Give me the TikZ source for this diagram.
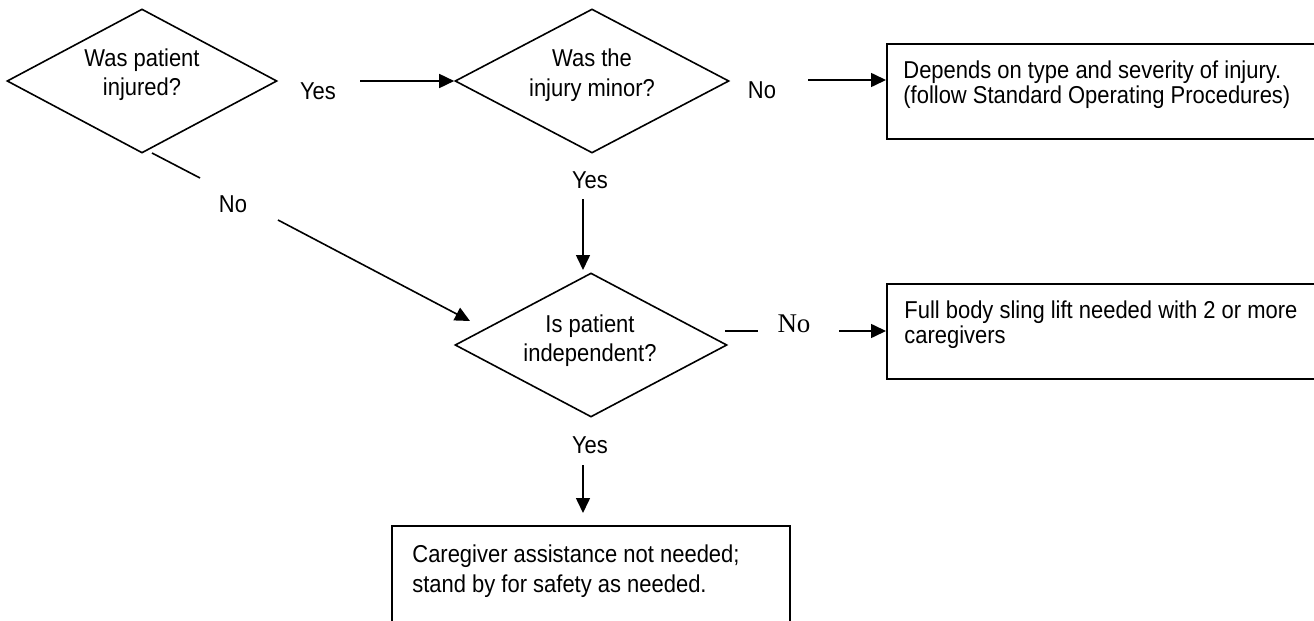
\documentclass[tikz,border=0pt]{standalone}
\usepackage{fontspec}
\setmainfont{Liberation Sans}[FakeStretch=0.9]
\newfontfamily\serifface{Liberation Serif}
\usetikzlibrary{shapes.geometric,arrows.meta}
\begin{document}
\begin{tikzpicture}[x=0.5pt,y=-0.5pt,
  decision/.style={draw, shape=diamond, inner sep=0pt, line width=0.8pt,
                   minimum width=136pt, minimum height=72pt},
  outcome/.style={draw, rectangle, inner sep=0pt, line width=1pt, anchor=north west},
  txt/.style={inner sep=0pt, anchor=base, font=\fontsize{12.2}{14}\selectfont},
  ltxt/.style={txt, anchor=base west},
  conn/.style={line width=0.8pt},
  arr/.style={conn, -{Triangle[length=7.5pt,width=7pt]}}]
\useasboundingbox (0,0) rectangle (1314,621);
\clip (0,0) rectangle (1314,621);

% decisions
\node[decision, minimum width=135pt] (d1) at (142,81) {};
\node[txt] (d1a) at (142,67) {Was patient};
\node[txt] (d1b) at (142,96) {injured?};

\node[decision, minimum width=137pt] (d2) at (592,81) {};
\node[txt] (d2a) at (592,67) {Was the};
\node[txt] (d2b) at (592,97) {injury minor?};

\node[decision] (d3) at (591,345) {};
\node[txt] (d3a) at (590,332) {Is patient};
\node[txt] (d3b) at (590,361) {independent?};

% outcomes
\node[outcome, minimum width=218pt, minimum height=47.5pt] (b1) at (886,43) {};
\node[ltxt] (b1a) at (903,78) {Depends on type and severity of injury.};
\node[ltxt] (b1b) at (903,104) {(follow Standard Operating Procedures)};

\node[outcome, minimum width=218pt, minimum height=47.5pt] (b2) at (886,283) {};
\node[ltxt] (b2a) at (904,318) {Full body sling lift needed with 2 or more};
\node[ltxt] (b2b) at (904,343) {caregivers};

\node[outcome, minimum width=199pt, minimum height=62pt] (b3) at (391,525) {};
\node[ltxt] (b3a) at (412,562) {Caregiver assistance not needed;};
\node[ltxt] (b3b) at (412,592) {stand by for safety as needed.};

% branch labels
\node[txt] (y1) at (318,99) {Yes};
\node[txt] (n1) at (762,98) {No};
\node[txt] (n2) at (233,212) {No};
\node[txt] (y2) at (590,188) {Yes};
\node[txt, font=\serifface\fontsize{13.5}{15}\selectfont] (n3) at (794,332) {No};
\node[txt] (y3) at (590,453) {Yes};

% connector end points
\coordinate (a1s) at (360,81);
\coordinate (a2s) at (808,80);
\coordinate (n2a) at (152,153);
\coordinate (n2b) at (200,178);
\coordinate (n2c) at (278,220);
\coordinate (n2d) at (470,321);
\coordinate (y2s) at (583,199);
\coordinate (y2e) at (583,270);
\coordinate (n3a) at (725,331);
\coordinate (n3b) at (758,331);
\coordinate (n3c) at (839,331);
\coordinate (y3s) at (583,465);
\coordinate (y3e) at (583,513);

% connectors
\draw[arr] (a1s) -- (d2.west);
\draw[arr] (a2s) -- (a2s -| b1.west);
\draw[conn] (n2a) -- (n2b);
\draw[arr] (n2c) -- (n2d);
\draw[arr] (y2s) -- (y2e);
\draw[conn] (n3a) -- (n3b);
\draw[arr] (n3c) -- (n3c -| b2.west);
\draw[arr] (y3s) -- (y3e);
\end{tikzpicture}
\end{document}
